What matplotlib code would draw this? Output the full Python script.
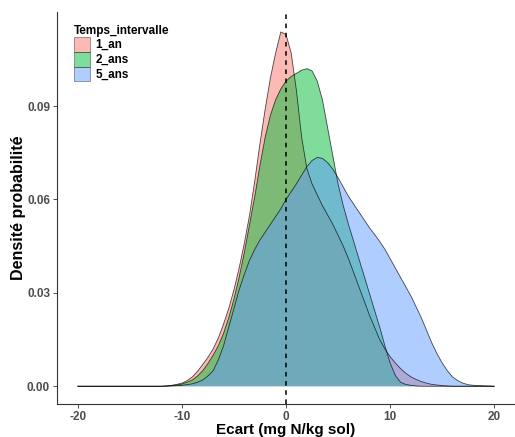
import matplotlib
matplotlib.use("Agg")
import matplotlib.pyplot as plt
from matplotlib.patches import Patch

plt.rcParams['font.family'] = ['Liberation Sans', 'DejaVu Sans']

# ---- data ----
x_grid = [-20, -12, -11.5, -11, -10.5, -10, -9.5, -9, -8.5, -8, -7.5, -7, -6.5, -6, -5.5,
          -5, -4.5, -4, -3.5, -3, -2.5, -2, -1.5, -1, -0.5, 0, 0.5, 1, 1.5, 2, 2.5, 3,
          3.5, 4, 4.5, 5, 5.5, 6, 6.5, 7, 7.5, 8, 8.5, 9, 9.5, 10, 10.5, 11, 11.5, 12,
          12.5, 13, 13.5, 14, 14.5, 15, 15.5, 16, 16.5, 17, 17.5, 18, 20]

dens_1an = [0, 0, 0.0001, 0.0003, 0.0006, 0.001, 0.0018, 0.003, 0.0048, 0.007, 0.0093,
            0.012, 0.0155, 0.020, 0.025, 0.031, 0.038, 0.046, 0.055, 0.066, 0.078, 0.089,
            0.099, 0.107, 0.1138, 0.1130, 0.107, 0.095, 0.080, 0.070, 0.065, 0.0615, 0.058,
            0.055, 0.052, 0.0485, 0.045, 0.041, 0.0365, 0.032, 0.0275, 0.023, 0.019, 0.015,
            0.012, 0.0095, 0.0075, 0.0057, 0.0042, 0.003, 0.0022, 0.0015, 0.001, 0.0006,
            0.0004, 0.0002, 0.0001, 0, 0, 0, 0, 0, 0]

dens_2ans = [0, 0, 0.0001, 0.0002, 0.0004, 0.0007, 0.0013, 0.002, 0.0033, 0.005, 0.0073,
             0.010, 0.013, 0.017, 0.022, 0.028, 0.035, 0.043, 0.052, 0.061, 0.071, 0.080,
             0.087, 0.092, 0.0955, 0.098, 0.0995, 0.1005, 0.1015, 0.102, 0.1013, 0.098, 0.092,
             0.083, 0.074, 0.065, 0.058, 0.052, 0.0465, 0.041, 0.0355, 0.030, 0.0245, 0.019,
             0.013, 0.0075, 0.0035, 0.0013, 0.0006, 0.0003, 0.0001, 0, 0, 0, 0, 0, 0, 0, 0,
             0, 0, 0, 0]

dens_5ans = [0, 0, 0, 0.0001, 0.0002, 0.0003, 0.0005, 0.0008, 0.0013, 0.002, 0.0033,
             0.005, 0.0085, 0.013, 0.019, 0.025, 0.031, 0.036, 0.0405, 0.044, 0.047, 0.0495,
             0.052, 0.0545, 0.057, 0.060, 0.0625, 0.065, 0.0678, 0.0705, 0.0725, 0.0735,
             0.0732, 0.0718, 0.0697, 0.067, 0.064, 0.061, 0.0585, 0.056, 0.0535, 0.051,
             0.0488, 0.0465, 0.044, 0.041, 0.038, 0.035, 0.032, 0.029, 0.0255, 0.022, 0.018,
             0.014, 0.0105, 0.0075, 0.005, 0.003, 0.0018, 0.001, 0.0005, 0.0003, 0]

groups = ["1_an", "2_ans", "5_ans"]
colors = ["#F8766D", "#00BA38", "#619CFF"]
series = [dens_1an, dens_2ans, dens_5ans]

x_ticks = [-20, -10, 0, 10, 20]
y_ticks = [0.00, 0.03, 0.06, 0.09]

# ---- figure ----
fig = plt.figure(figsize=(5.15, 4.37), dpi=100)
ax = fig.add_axes([0.1107, 0.0755, 0.8893, 0.897])

for g, c, d in zip(groups, colors, series):
    ax.fill_between(x_grid, 0, d, facecolor=c, alpha=0.5, linewidth=0)
    ax.plot(x_grid, d, color="black", linewidth=0.6, alpha=0.7)

ax.axvline(0, color="black", linestyle=(0, (3, 3)), linewidth=1.1)

ax.set_xlim(-22, 22)
ax.set_ylim(-0.0057, 0.1202)
ax.set_xticks(x_ticks)
ax.set_xticklabels([str(t) for t in x_ticks])
ax.set_yticks(y_ticks)
ax.set_yticklabels([f"{t:.2f}" for t in y_ticks])

for s in ["top", "right"]:
    ax.spines[s].set_visible(False)
for s in ["left", "bottom"]:
    ax.spines[s].set_color("#333333")
    ax.spines[s].set_linewidth(0.8)

ax.tick_params(axis="both", length=3, width=0.6, color="#333333",
               labelsize=8.5, labelcolor="#4D4D4D", pad=2)
for lab in ax.get_xticklabels() + ax.get_yticklabels():
    lab.set_fontweight("bold")

ax.set_xlabel("Ecart (mg N/kg sol)", fontsize=11, fontweight="bold", labelpad=0)
ax.set_ylabel("Densité probabilité", fontsize=11.5, fontweight="bold", labelpad=1)

handles = [Patch(facecolor=c, alpha=0.5, edgecolor="black", linewidth=0.5) for c in colors]
leg = ax.legend(handles, groups, title="Temps_intervalle", loc="upper left",
                bbox_to_anchor=(0.021, 0.985), frameon=False, fontsize=8.5,
                title_fontsize=8.5, handlelength=1.4, handleheight=1.55,
                handletextpad=0.45, labelspacing=0.0, borderaxespad=0.2)
leg.get_title().set_fontweight("bold")
leg._legend_box.align = "left"
for t in leg.get_texts():
    t.set_fontweight("bold")

fig.savefig("out.png", dpi=100)
